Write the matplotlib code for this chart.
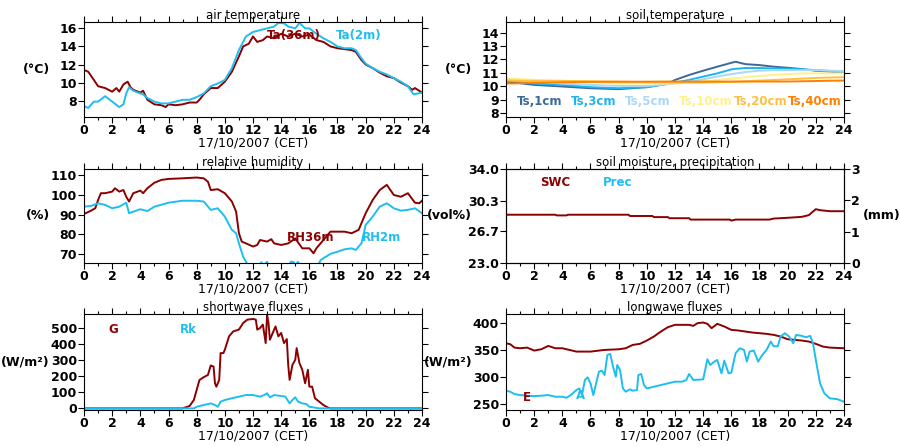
import matplotlib
matplotlib.use("Agg")
import matplotlib.pyplot as plt
from matplotlib.ticker import MultipleLocator

plt.rcParams['font.family'] = 'DejaVu Sans'
plt.rcParams['font.weight'] = 'bold'
plt.rcParams['font.size'] = 8.5

RED = '#8B0000'
BLUE = '#1EBEF0'

# ---- air temperature
ta36_h = [0, 0.3, 0.7, 1, 1.5, 2, 2.3, 2.5, 2.8, 3.1, 3.3, 3.5, 4, 4.2, 4.5, 5, 5.5, 5.8, 6, 6.5, 7, 7.5, 8, 8.2, 8.5,
          9, 9.5, 10, 10.5, 11, 11.3, 11.7, 12, 12.3, 12.7, 13, 13.5, 14, 14.5, 15, 15.5, 16, 16.5, 17, 17.5, 18,
          18.5, 19, 19.3, 19.7, 20, 20.5, 21, 21.5, 22, 22.5, 23, 23.3, 23.5, 24]
ta36 = [11.4, 11.2, 10.3, 9.6, 9.4, 9.0, 9.4, 9.0, 9.8, 10.1, 9.5, 9.2, 8.9, 9.1, 8.1, 7.6, 7.5, 7.3, 7.6, 7.5, 7.6,
        7.8, 7.8, 8.1, 8.7, 9.4, 9.4, 10.1, 11.2, 12.9, 14.0, 14.3, 15.1, 14.5, 14.7, 15.1, 14.9, 15.4, 15.1, 15.4,
        15.1, 15.3, 14.7, 14.5, 14.0, 13.8, 13.7, 13.6, 13.4, 12.5, 12.0, 11.6, 11.1, 10.7, 10.5, 10.0, 9.6, 9.2,
        9.4, 8.9]
ta2_h = [0, 0.3, 0.7, 1, 1.5, 2, 2.5, 2.8, 3, 3.2, 3.5, 4, 4.2, 4.5, 5, 5.5, 6, 6.5, 7, 7.5, 8, 8.5, 9, 9.5, 10,
         10.5, 11, 11.5, 12, 12.5, 13, 13.5, 13.8, 14.2, 14.5, 15, 15.3, 15.7, 16, 16.5, 17, 17.5, 18, 18.5, 19,
         19.3, 19.7, 20, 20.5, 21, 21.5, 22, 22.5, 23, 23.4, 23.7, 24]
ta2 = [7.4, 7.2, 7.9, 7.9, 8.5, 7.9, 7.3, 7.6, 8.8, 9.5, 9.1, 8.8, 8.7, 8.3, 7.9, 7.7, 7.7, 7.9, 8.1, 8.1, 8.4, 8.8,
       9.6, 9.9, 10.3, 11.6, 13.6, 15.1, 15.6, 15.8, 16.0, 16.2, 16.6, 16.55, 16.2, 16.0, 16.6, 16.0, 16.0, 15.4,
       14.9, 14.5, 14.0, 13.8, 13.8, 13.6, 12.7, 12.1, 11.6, 11.2, 10.9, 10.5, 10.1, 9.6, 8.7, 8.8, 8.9]

# ---- soil temperature
ts_h = [0, 2, 4, 6, 8, 10, 11.5, 12, 13, 14, 15, 16, 16.3, 17, 18, 19, 20, 21, 22, 23, 24]
ts1 = [10.35, 10.1, 9.98, 9.85, 9.78, 9.93, 10.2, 10.47, 10.84, 11.16, 11.46, 11.75, 11.83, 11.65, 11.58, 11.46,
       11.38, 11.28, 11.16, 11.09, 11.0]
ts3 = [10.47, 10.2, 10.1, 9.93, 9.85, 9.93, 10.17, 10.27, 10.47, 10.72, 10.96, 11.26, 11.3, 11.36, 11.36, 11.33,
       11.31, 11.26, 11.2, 11.14, 11.09]
ts5 = [10.52, 10.35, 10.2, 10.1, 10.02, 10.02, 10.15, 10.2, 10.35, 10.52, 10.72, 10.91, 10.95, 11.06, 11.16, 11.2,
       11.2, 11.2, 11.2, 11.16, 11.14]
ts10 = [10.6, 10.47, 10.4, 10.3, 10.2, 10.2, 10.2, 10.2, 10.27, 10.35, 10.47, 10.57, 10.6, 10.67, 10.77, 10.84,
        10.91, 10.96, 10.96, 10.96, 10.96]
ts20 = [10.42, 10.41, 10.4, 10.38, 10.35, 10.3, 10.28, 10.27, 10.27, 10.27, 10.3, 10.32, 10.33, 10.37, 10.42, 10.47,
        10.52, 10.57, 10.62, 10.65, 10.67]
ts40 = [10.2, 10.25, 10.3, 10.32, 10.33, 10.34, 10.35, 10.35, 10.35, 10.35, 10.35, 10.35, 10.35, 10.35, 10.35,
        10.35, 10.35, 10.37, 10.39, 10.41, 10.42]
ts_labels = ['Ts,1cm', 'Ts,3cm', 'Ts,5cm', 'Ts,10cm', 'Ts,20cm', 'Ts,40cm']
ts_colors = ['#3C6A98', '#1EB4F0', '#AAD8F8', '#FFF08A', '#FFC040', '#FF8000']

# ---- relative humidity
rh36_h = [0, 0.5, 0.8, 1, 1.2, 1.5, 2, 2.2, 2.5, 2.8, 3, 3.2, 3.5, 4, 4.2, 4.5, 5, 5.5, 6, 7, 8, 8.5, 8.8, 9, 9.5,
          10, 10.5, 10.8, 11, 11.2, 11.5, 12, 12.3, 12.5, 13, 13.3, 13.5, 14, 14.5, 15, 15.5, 16, 16.3, 16.5, 17,
          17.5, 18, 18.5, 19, 19.5, 20, 20.5, 21, 21.5, 22, 22.5, 23, 23.5, 23.8, 24]
rh36 = [90.3, 92, 93.2, 97.4, 100.8, 100.8, 101.6, 103.3, 101.6, 102.4, 99, 96.6, 100.8, 102.1, 100.8, 103.3, 106.1,
        107.5, 108, 108.3, 108.7, 108.3, 106.6, 102.4, 102.8, 100.8, 96.6, 91.5, 80.6, 76.4, 75.5, 73.9, 74.7, 77.2,
        76.4, 77.6, 75.5, 74.7, 75.5, 78, 73, 73, 70.5, 73, 77.2, 81.4, 81.4, 81.4, 80.6, 82.3, 90.7, 97.4, 102.4,
        105, 99.9, 99, 100.8, 96, 95.7, 97]
rh2_h = [0, 0.5, 1, 1.5, 2, 2.5, 3, 3.2, 3.5, 4, 4.5, 5, 6, 7, 8, 8.5, 9, 9.5, 10, 10.5, 10.8, 11, 11.3, 11.6, 12,
         12.4, 12.6, 12.7, 13, 13.1, 13.5, 14.5, 14.7, 14.9, 15, 15.2, 15.3, 16, 16.6, 16.8, 17, 17.5, 18, 18.5,
         19, 19.3, 19.7, 20, 20.5, 21, 21.5, 22, 22.5, 23, 23.5, 24]
rh2 = [94, 94.4, 95.7, 94.9, 93.2, 94, 96, 90.7, 91.5, 92.7, 91.8, 94, 96, 97, 97, 96.6, 92.4, 93.2, 89, 82.3, 80.6,
       75.5, 68.8, 65, 62, 64, 66, 64, 66.2, 64, 62, 64, 66.3, 66, 64.5, 66.2, 64, 62, 64, 67.1, 68, 70.2, 71.3,
       72.5, 73, 72.2, 75.5, 84.8, 89, 94, 95.7, 93.2, 92, 92.4, 93.2, 90.7]

# ---- soil moisture / precipitation
swc_h = [0, 3.5, 3.6, 4.3, 4.4, 8.7, 8.8, 10.4, 10.5, 11.5, 11.6, 13, 13.1, 15.9, 16, 16.3, 18.7, 19, 20, 21, 21.5,
         22, 22.3, 23, 24]
swc = [28.65, 28.65, 28.57, 28.57, 28.65, 28.65, 28.5, 28.5, 28.37, 28.37, 28.24, 28.24, 28.08, 28.08, 27.96, 28.08,
       28.08, 28.2, 28.29, 28.4, 28.6, 29.3, 29.18, 29.06, 29.06]
prec_h = [0, 6, 12, 18, 24]
prec = [0, 0, 0, 0, 0]

# ---- shortwave
g_h = [0, 7.0, 7.5, 7.8, 8.0, 8.2, 8.5, 8.8, 9.0, 9.2, 9.3, 9.4, 9.6, 9.7, 9.9, 10.0, 10.3, 10.6, 11, 11.3, 11.6,
       12, 12.2, 12.3, 12.5, 12.7, 12.9, 13.0, 13.1, 13.2, 13.4, 13.6, 13.8, 14.0, 14.2, 14.4, 14.5, 14.6, 14.8,
       15.0, 15.1, 15.3, 15.5, 15.7, 15.9, 16.0, 16.2, 16.4, 16.7, 17, 17.3, 17.5, 24]
g = [0, 0, 15, 52, 115, 177, 194, 208, 267, 260, 156, 135, 177, 344, 344, 365, 448, 479, 490, 531, 552, 556, 552,
     490, 500, 521, 406, 583, 531, 427, 469, 510, 448, 469, 406, 431, 271, 177, 271, 302, 375, 281, 240, 156, 240,
     135, 135, 63, 42, 21, 6, 0, 0]
rk_h = [0, 7.8, 8.0, 8.5, 9.0, 9.3, 9.5, 9.7, 10, 10.5, 11, 11.5, 12, 12.5, 12.8, 13, 13.2, 13.5, 14, 14.3, 14.6,
        14.8, 15, 15.2, 15.5, 15.8, 16, 16.3, 16.7, 24]
rk = [0, 0, 10, 21, 31, 21, 10, 42, 52, 63, 73, 83, 83, 73, 83, 94, 69, 83, 77, 73, 31, 52, 69, 42, 31, 27, 10, 6,
      0, 0]

# ---- longwave
e_h = [0, 0.3, 0.6, 1, 1.5, 2, 2.5, 3, 3.5, 4, 4.5, 5, 6, 7, 8, 8.5, 9, 9.5, 10, 10.5, 11, 11.5, 12, 12.5, 13, 13.3,
       13.6, 14, 14.3, 14.6, 15, 15.5, 16, 16.5, 17, 17.5, 18, 18.5, 19, 19.5, 20, 20.5, 21, 21.5, 22, 22.5, 23, 24]
e = [362.8, 361, 354.7, 353.5, 354.7, 349.2, 351.6, 357.8, 353.5, 353.5, 350.4, 347.3, 347.3, 350.4, 351.6, 353.5,
     359.7, 361.6, 367.8, 375.2, 384.5, 392.6, 396.9, 396.9, 396.9, 395, 400, 401.2, 398.8, 390.7, 398.8, 393.8,
     387.6, 386.4, 384.5, 382.6, 381.4, 380.2, 378.3, 375.2, 370.2, 369, 367.8, 365.9, 361.6, 356.6, 354.7, 353.5]
a_h = [0, 0.3, 0.6, 1, 1.5, 2, 2.5, 3, 3.5, 4, 4.3, 4.6, 5.0, 5.2, 5.4, 5.6, 5.8, 6.0, 6.2, 6.4, 6.6, 6.8, 7.0, 7.2,
       7.4, 7.6, 7.8, 7.9, 8.1, 8.3, 8.5, 8.8, 9.0, 9.3, 9.4, 9.6, 9.8, 10, 10.5, 11, 11.5, 12, 12.5, 12.8, 13,
       13.3, 14, 14.3, 14.5, 14.8, 15, 15.3, 15.5, 15.8, 16, 16.3, 16.6, 16.9, 17.1, 17.3, 17.6, 17.9, 18.2, 18.5,
       18.8, 19.0, 19.3, 19.5, 19.8, 20.1, 20.4, 20.6, 21, 21.3, 21.6, 21.8, 22.0, 22.3, 22.6, 23, 23.5, 24]
a = [274.8, 272.9, 268.6, 266.7, 265.5, 264.8, 265.5, 266.7, 263.6, 263.6, 261.7, 266.7, 276, 279, 266.7, 294.6,
     299.6, 288.4, 266.7, 288.4, 310.1, 312, 303.9, 341.1, 343, 319.4, 300.8, 322.5, 313.2, 279, 272.9, 277.3,
     274.8, 276, 303.9, 305.8, 285.3, 279, 282.2, 285.3, 288.4, 291.5, 291.5, 294.6, 305.8, 294.6, 295.8, 333,
     322.5, 328.7, 331.8, 307, 330.5, 307, 308.2, 344.2, 353.5, 350.4, 328.7, 347.3, 349.2, 328.7, 341.1, 350.4,
     365.9, 357.2, 357.2, 375.2, 381.4, 375.2, 362.8, 378.3, 376.4, 373.9, 376.4, 362.8, 331.8, 288.4, 270, 260.5,
     259.3, 254.3]

fig = plt.figure(figsize=(9, 4.47), dpi=100)
W, H = 900, 447
FS = 9


def make_ax(left, top, bottom, title, ylim, ylabel):
    ax = fig.add_axes([left / W, 1 - bottom / H, 338 / W, (bottom - top) / H])
    ax.set_xlim(0, 24)
    ax.set_ylim(*ylim)
    ax.xaxis.set_major_locator(MultipleLocator(2))
    ax.xaxis.set_minor_locator(MultipleLocator(1))
    ax.tick_params(which='both', direction='out', top=True, right=True, labelsize=FS, pad=1)
    ax.tick_params(which='major', length=4, width=0.8)
    ax.tick_params(which='minor', length=2, width=0.8)
    for s in ax.spines.values():
        s.set_linewidth(0.8)
    ax.set_title(title, fontsize=8.5, pad=1)
    ax.set_xlabel('17/10/2007 (CET)', fontsize=FS, labelpad=0)
    fig.text((left - 34) / W, 1 - ((top + bottom) / 2) / H, ylabel, fontsize=FS,
             ha='right', va='center')
    return ax


lw = 1.4

# air temperature
ax = make_ax(84, 22, 117, 'air temperature', (6.2, 16.7), '(°C)')
ax.yaxis.set_major_locator(MultipleLocator(2))
ax.plot(ta36_h, ta36, color=RED, lw=lw)
ax.plot(ta2_h, ta2, color=BLUE, lw=lw)
ax.text(13.0, 15.2, 'Ta(36m)', color=RED, va='center')
ax.text(17.9, 15.2, 'Ta(2m)', color=BLUE, va='center')

# soil temperature
ax = make_ax(506, 22, 117, 'soil temperature', (7.7, 14.8), '(°C)')
ax.yaxis.set_major_locator(MultipleLocator(1))
for vals, c in zip([ts1, ts3, ts5, ts10, ts20, ts40], ts_colors):
    ax.plot(ts_h, vals, color=c, lw=lw)
for i, (lab, c) in enumerate(zip(ts_labels, ts_colors)):
    ax.text(0.75 + 3.85 * i, 8.86, lab, color=c, va='center')

# relative humidity
ax = make_ax(84, 169, 263, 'relative humidity', (65.6, 113), '(%)')
ax.yaxis.set_major_locator(MultipleLocator(10))
ax.plot(rh36_h, rh36, color=RED, lw=lw)
ax.plot(rh2_h, rh2, color=BLUE, lw=lw)
ax.text(14.4, 78.6, 'RH36m', color=RED, va='center')
ax.text(19.7, 78.6, 'RH2m', color=BLUE, va='center')

# soil moisture, precipitation
ax = make_ax(506, 169, 263, 'soil moisture, precipitation', (23.0, 34.0), '(vol%)')
ax.set_yticks([23.0, 26.7, 30.3, 34.0])
ax.set_yticklabels(['23.0', '26.7', '30.3', '34.0'])
ax.tick_params(right=False)
ax.plot(swc_h, swc, color=RED, lw=lw)
ax.text(2.4, 32.4, 'SWC', color=RED, va='center')
ax.text(6.9, 32.4, 'Prec', color=BLUE, va='center')
ax2 = ax.twinx()
ax2.set_ylim(0, 3)
ax2.set_yticks([0, 1, 2, 3])
ax2.tick_params(direction='out', length=4, width=0.8, labelsize=FS, pad=1)
ax2.bar(prec_h, prec, width=0.15, color=BLUE)
ax2.text(1.055, 0.5, '(mm)', transform=ax2.transAxes, fontsize=FS, ha='left', va='center')

# shortwave
ax = make_ax(84, 314, 410, 'shortwave fluxes', (-10, 587), '(W/m²)')
ax.yaxis.set_major_locator(MultipleLocator(100))
ax.plot(g_h, g, color=RED, lw=lw)
ax.plot(rk_h, rk, color=BLUE, lw=lw)
ax.text(1.7, 490, 'G', color=RED, va='center')
ax.text(6.8, 490, 'Rk', color=BLUE, va='center')

# longwave
ax = make_ax(506, 314, 410, 'longwave fluxes', (239, 417), '(W/m²)')
ax.yaxis.set_major_locator(MultipleLocator(50))
ax.plot(e_h, e, color=RED, lw=lw)
ax.plot(a_h, a, color=BLUE, lw=lw)
ax.text(1.2, 263, 'E', color=RED, va='center')
ax.text(5.0, 266, 'A', color=BLUE, va='center')

fig.savefig('out.png', dpi=100)
